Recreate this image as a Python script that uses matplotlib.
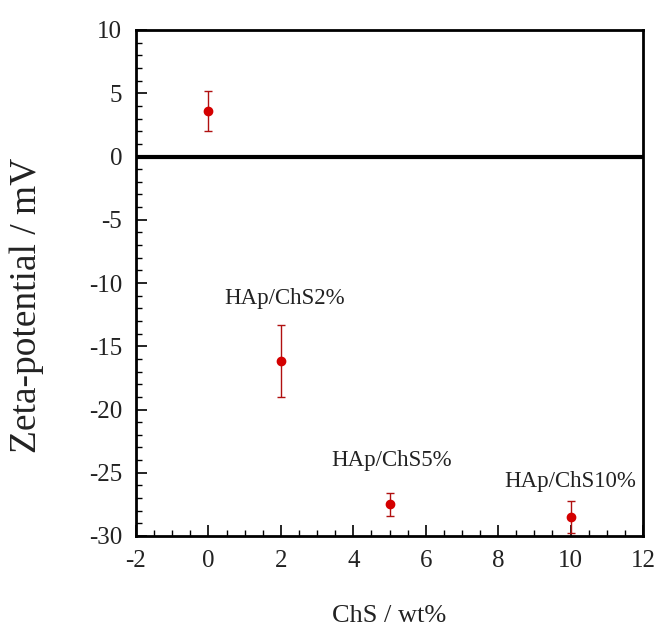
import matplotlib
matplotlib.use("Agg")
from matplotlib import pyplot as plt
from matplotlib.ticker import MultipleLocator

plt.rcParams['font.family'] = ['Liberation Serif', 'DejaVu Serif']
plt.rcParams['axes.unicode_minus'] = False

chs = [0, 2, 5, 10]
zeta = [3.6, -16.2, -27.5, -28.5]
err = [1.55, 2.85, 0.9, 1.3]

labels = ['HAp/ChS2%', 'HAp/ChS5%', 'HAp/ChS10%']
label_x = [2.1, 5.05, 10.0]
label_y = [-11.2, -24.0, -25.7]

fig = plt.figure(figsize=(6.59, 6.26), dpi=100)
ax = fig.add_axes([136 / 659, 1 - 536 / 626, 507 / 659, 506 / 626])

ax.axhline(0, color='black', lw=3, zorder=1)
ax.errorbar(chs, zeta, yerr=err, fmt='o', color='#d40000', ecolor='#b01010',
            ms=6, elinewidth=1, capsize=3, capthick=1, zorder=3, clip_on=False)

for t, x, y in zip(labels, label_x, label_y):
    ax.text(x, y, t, ha='center', va='center', fontsize=16.5, color='#222222')

ax.set_xlim(-2, 12)
ax.set_ylim(-30, 10)
ax.xaxis.set_major_locator(MultipleLocator(2))
ax.xaxis.set_minor_locator(MultipleLocator(0.5))
ax.yaxis.set_major_locator(MultipleLocator(5))
ax.yaxis.set_minor_locator(MultipleLocator(1))
ax.tick_params(which='both', direction='in', labelsize=18, colors='#222222')
ax.tick_params(axis='x', pad=10)
ax.tick_params(axis='y', pad=10)
ax.tick_params(which='major', length=8, width=1.2, color='black')
ax.tick_params(which='minor', length=4, width=1, color='black')
for s in ax.spines.values():
    s.set_linewidth(2)

ax.set_xlabel('ChS / wt%', fontsize=19, color='#222222')
ax.set_ylabel('Zeta-potential / mV', fontsize=27, color='#222222')
ax.xaxis.set_label_coords(0.5, -0.137)
ax.yaxis.set_label_coords(-0.181, 0.455)

fig.savefig('out.png', dpi=100)
